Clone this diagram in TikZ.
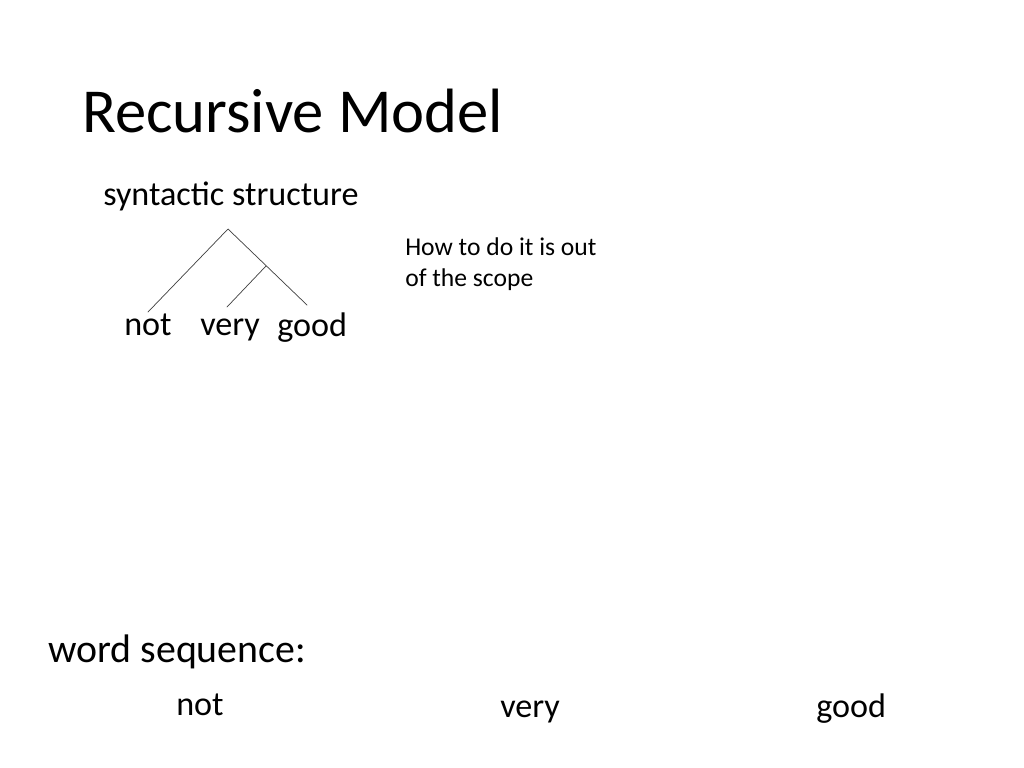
\documentclass[tikz,border=0pt]{standalone}
\usepackage{fontspec}
\setmainfont{Carlito}
\begin{document}
\begin{tikzpicture}[x=0.703pt, y=-0.703pt, line join=round, line cap=round]
	\tikzset{word/.style={anchor=base west, inner sep=0pt, font=\fontsize{24}{28}\selectfont},
		branch/.style={draw=black!75, line width=0.5pt}}
	\useasboundingbox (0,0) rectangle (1024,768);
	% tieu de
	\node[anchor=base west, inner sep=0pt, font=\fontsize{44}{52}\selectfont] (title) at (82,132) {Recursive Model};
	\node[word] (syn) at (103,205) {syntactic structure};
	\node[anchor=base west, inner sep=0pt, align=left, font=\fontsize{18}{21.3}\selectfont] (note) at (405,286) {How to do it is out\\of the scope};
	% cay cu phap
	\coordinate (root) at (228,229);
	\coordinate (mid) at (266,266);
	\coordinate (lnot) at (148,312);
	\coordinate (lvery) at (227,307);
	\coordinate (lgood) at (307,305);
	\draw[branch] (lnot)--(root)--(lgood);
	\draw[branch] (lvery)--(mid);
	\node[word] (tnot) at (124,335) {not};
	\node[word] (tvery) at (200,335) {very};
	\node[word] (tgood) at (277,336) {good};
	% day tu
	\node[word, font=\fontsize{28}{32}\selectfont] (seq) at (48,662) {word sequence:};
	\node[word] (snot) at (176,715) {not};
	\node[word] (svery) at (500,717) {very};
	\node[word] (sgood) at (816,717) {good};
\end{tikzpicture}
\end{document}
